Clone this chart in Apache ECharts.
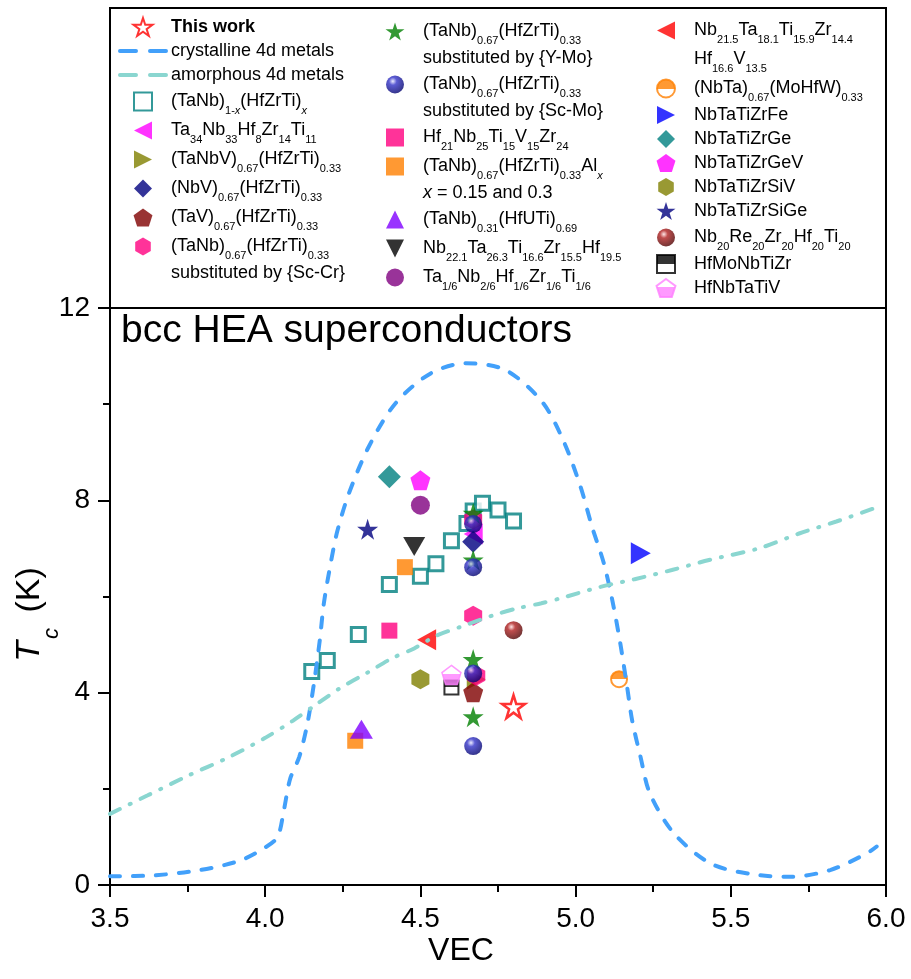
<!DOCTYPE html>
<html>
<head>
<meta charset="utf-8">
<title>bcc HEA superconductors</title>
<script src="https://cdn.jsdelivr.net/npm/echarts/dist/echarts.min.js"></script>
<style>
  html, body { margin: 0; padding: 0; background: #fff; }
  #chart { width: 911px; height: 979px; }
</style>
</head>
<body>
<div id="chart"></div>
<script>
// axis ticks
const xTicks = { min: 3.5, max: 6.0, step: 0.5 }
const yTicks = { min: 0, max: 12, step: 4 }

// reference curves (VEC, Tc)
const crystalline = [[3.5, 0.18], [3.64, 0.2], [3.79, 0.31], [3.92, 0.51], [4.0, 0.78], [4.04, 1.0], [4.06, 1.55], [4.08, 2.2], [4.11, 2.67], [4.136, 3.36], [4.157, 4.19], [4.176, 5.1], [4.189, 5.86], [4.211, 6.69], [4.232, 7.35], [4.27, 8.15], [4.334, 9.12], [4.42, 10.02], [4.533, 10.64], [4.646, 10.85], [4.774, 10.71], [4.892, 10.05], [4.962, 9.22], [5.016, 8.28], [5.053, 7.45], [5.091, 6.69], [5.118, 5.93], [5.142, 5.1], [5.166, 4.12], [5.182, 3.43], [5.209, 2.67], [5.239, 1.91], [5.316, 1.08], [5.434, 0.45], [5.563, 0.23], [5.692, 0.17], [5.82, 0.31], [5.939, 0.66], [5.97, 0.8]]
const amorphous = [[3.5, 1.48], [3.62, 1.86], [3.75, 2.27], [3.88, 2.65], [4.0, 3.06], [4.09, 3.42], [4.17, 3.78], [4.24, 4.09], [4.33, 4.42], [4.41, 4.72], [4.48, 4.92], [4.55, 5.18], [4.63, 5.37], [4.74, 5.62], [4.81, 5.75], [4.89, 5.86], [4.95, 5.96], [5.08, 6.2], [5.19, 6.36], [5.31, 6.55], [5.43, 6.76], [5.59, 7.0], [5.72, 7.31], [5.84, 7.56], [5.96, 7.83]]

// HEA data (VEC, Tc)
const thisWork = [[4.80, 3.71]]
const tanbX = [[4.15, 4.44], [4.20, 4.67], [4.30, 5.21], [4.40, 6.25], [4.50, 6.42], [4.55, 6.68], [4.60, 7.16], [4.65, 7.52], [4.67, 7.78], [4.70, 7.94], [4.75, 7.80], [4.80, 7.57]]
const ta34 = [[4.67, 7.30]]
const tanbv = [[4.68, 4.28]]
const nbv = [[4.67, 7.14]]
const tav = [[4.67, 4.01]]
const subScCr = [[4.67, 7.60], [4.67, 5.60], [4.68, 4.35]]
const subYMo = [[4.67, 7.73], [4.67, 6.76], [4.67, 4.69], [4.67, 3.50]]
const subScMo = [[4.67, 7.51], [4.67, 6.61], [4.67, 4.40], [4.67, 2.89]]
const hf21 = [[4.40, 5.29]]
const alX = [[4.45, 6.61], [4.29, 3.00]]
const hfuti = [[4.31, 3.24]]
const nb221 = [[4.48, 7.04]]
const ta16 = [[4.50, 7.90]]
const nb215 = [[4.52, 5.10]]
const nbtaMoHfW = [[5.14, 4.28]]
const zrFe = [[5.21, 6.90]]
const zrGe = [[4.40, 8.49]]
const zrGeV = [[4.50, 8.42]]
const zrSiV = [[4.50, 4.28]]
const zrSiGe = [[4.33, 7.40]]
const nb20 = [[4.80, 5.30]]
const hfMo = [[4.60, 4.11]]
const hfNbTaTiV = [[4.60, 4.37]]

// legend columns
const legendCol1 = ['This work', 'crystalline 4d metals', 'amorphous 4d metals', 'tanbX', 'ta34', 'tanbv', 'nbv', 'tav', 'subScCr', 'substituted by {Sc-Cr}']
const legendCol2 = ['subYMo', 'substituted by {Y-Mo}', 'subScMo', 'substituted by {Sc-Mo}', 'hf21', 'alX', 'x = 0.15 and 0.3', 'hfuti', 'nb221', 'ta16']
const legendCol3 = ['nb215', 'Hf16.6V13.5', 'nbtaMoHfW', 'NbTaTiZrFe', 'NbTaTiZrGe', 'NbTaTiZrGeV', 'NbTaTiZrSiV', 'NbTaTiZrSiGe', 'nb20', 'HfMoNbTiZr', 'HfNbTaTiV']

const legendText = {
  'This work': '{b|This work}',
  'tanbX': '{n|(TaNb)}{s|1-}{si|x}{n|(HfZrTi)}{si|x}',
  'ta34': '{n|Ta}{s|34}{n|Nb}{s|33}{n|Hf}{s|8}{n|Zr}{s|14}{n|Ti}{s|11}',
  'tanbv': '{n|(TaNbV)}{s|0.67}{n|(HfZrTi)}{s|0.33}',
  'nbv': '{n|(NbV)}{s|0.67}{n|(HfZrTi)}{s|0.33}',
  'tav': '{n|(TaV)}{s|0.67}{n|(HfZrTi)}{s|0.33}',
  'subScCr': '{n|(TaNb)}{s|0.67}{n|(HfZrTi)}{s|0.33}',
  'subYMo': '{n|(TaNb)}{s|0.67}{n|(HfZrTi)}{s|0.33}',
  'subScMo': '{n|(TaNb)}{s|0.67}{n|(HfZrTi)}{s|0.33}',
  'hf21': '{n|Hf}{s|21}{n|Nb}{s|25}{n|Ti}{s|15}{n|V}{s|15}{n|Zr}{s|24}',
  'alX': '{n|(TaNb)}{s|0.67}{n|(HfZrTi)}{s|0.33}{n|Al}{si|x}',
  'x = 0.15 and 0.3': '{i|x}{n| = 0.15 and 0.3}',
  'hfuti': '{n|(TaNb)}{s|0.31}{n|(HfUTi)}{s|0.69}',
  'nb221': '{n|Nb}{s|22.1}{n|Ta}{s|26.3}{n|Ti}{s|16.6}{n|Zr}{s|15.5}{n|Hf}{s|19.5}',
  'ta16': '{n|Ta}{s|1/6}{n|Nb}{s|2/6}{n|Hf}{s|1/6}{n|Zr}{s|1/6}{n|Ti}{s|1/6}',
  'nb215': '{n|Nb}{s|21.5}{n|Ta}{s|18.1}{n|Ti}{s|15.9}{n|Zr}{s|14.4}',
  'Hf16.6V13.5': '{n|Hf}{s|16.6}{n|V}{s|13.5}',
  'nbtaMoHfW': '{n|(NbTa)}{s|0.67}{n|(MoHfW)}{s|0.33}',
  'nb20': '{n|Nb}{s|20}{n|Re}{s|20}{n|Zr}{s|20}{n|Hf}{s|20}{n|Ti}{s|20}'
}

const FONT = '"Liberation Sans", Arial, sans-serif'

// path symbols keep their aspect in the legend, built-in ones get stretched
const STAR = 'path://M50,0L61.2,34.5L97.6,34.5L68.2,55.9L79.4,90.5L50,69.1L20.6,90.5L31.8,55.9L2.4,34.5L38.8,34.5Z'
const PENTAGON = 'path://M50,0L97.6,34.5L79.4,90.5L20.6,90.5L2.4,34.5Z'
const HEXAGON = 'path://M50,0L93.3,25L93.3,75L50,100L6.7,75L6.7,25Z'
const SQUARE = 'path://M0,0L100,0L100,100L0,100Z'
const DIAMOND = 'path://M50,0L100,50L50,100L0,50Z'
const TRI_UP = 'path://M50,0L100,100L0,100Z'
const TRI_LEFT = 'path://M0,50L100,0L100,100Z'
const TRI_RIGHT = 'path://M100,50L0,0L0,100Z'
const TRI_DOWN = 'path://M0,0L100,0L50,100Z'

function sphere(light, mid, dark) {
  return {
    type: 'radial', x: 0.38, y: 0.32, r: 0.72,
    colorStops: [
      { offset: 0, color: light },
      { offset: 0.3, color: mid },
      { offset: 1, color: dark }
    ]
  }
}

function split(top, bottom, at) {
  return {
    type: 'linear', x: 0, y: 0, x2: 0, y2: 1,
    colorStops: [
      { offset: 0, color: top }, { offset: at, color: top },
      { offset: at, color: bottom }, { offset: 1, color: bottom }
    ]
  }
}

function scatter(name, data, symbol, size, itemStyle) {
  return {
    name: name,
    type: 'scatter',
    data: data,
    symbol: symbol,
    symbolSize: size,
    itemStyle: itemStyle,
    emphasis: { disabled: true }
  }
}

// empty series that only hold the second line of a legend entry
function filler(name) {
  return { name: name, type: 'scatter', symbol: 'none', data: [] }
}

const rich = {
  n: { fontFamily: FONT, fontSize: 18, lineHeight: 24, color: '#000' },
  b: { fontFamily: FONT, fontSize: 18, lineHeight: 24, fontWeight: 'bold', color: '#000' },
  i: { fontFamily: FONT, fontSize: 18, lineHeight: 24, fontStyle: 'italic', color: '#000' },
  s: { fontFamily: FONT, fontSize: 11, lineHeight: 12, padding: [18, 0, 0, 0], color: '#000' },
  si: { fontFamily: FONT, fontSize: 11, lineHeight: 12, padding: [18, 0, 0, 0], fontStyle: 'italic', color: '#000' }
}

const lineLegend = {
  'crystalline 4d metals': { color: '#42a0fa', width: 4, type: [16, 14], cap: 'round' },
  'amorphous 4d metals': { color: '#8ad6d0', width: 4, type: [16, 14], cap: 'round' }
}

function legendColumn(left, top, names) {
  return {
    orient: 'vertical',
    left: left,
    top: top,
    padding: 0,
    itemGap: 0,
    itemWidth: 46,
    itemHeight: 18,
    symbolKeepAspect: true,
    selectedMode: false,
    formatter: name => legendText[name] || name,
    textStyle: { fontFamily: FONT, fontSize: 18, lineHeight: 24, color: '#000', rich: rich },
    data: names.map(n => lineLegend[n]
      ? { name: n, itemStyle: { opacity: 0 }, lineStyle: lineLegend[n] }
      : n)
  }
}

const chart = echarts.init(document.getElementById('chart'))

chart.setOption({
  animation: false,
  backgroundColor: '#fff',
  title: {
    text: 'bcc HEA superconductors',
    left: 121,
    top: 312,
    padding: 0,
    textStyle: { fontFamily: FONT, fontSize: 39, fontWeight: 'normal', color: '#000' }
  },
  legend: [
    legendColumn(118, 15, legendCol1),
    legendColumn(372, 17, legendCol2),
    legendColumn(643, 16, legendCol3)
  ],
  graphic: [{
    type: 'rect',
    shape: { x: 110, y: 8, width: 776, height: 300 },
    style: { fill: 'none', stroke: '#000', lineWidth: 2 },
    silent: true
  }],
  grid: {
    left: 110, right: 25, top: 308, bottom: 94,
    show: true, borderColor: '#000', borderWidth: 2,
    outerBoundsMode: 'none'
  },
  xAxis: {
    type: 'value',
    min: xTicks.min, max: xTicks.max, interval: xTicks.step,
    name: 'VEC',
    nameLocation: 'middle',
    nameGap: 50,
    nameMoveOverlap: false,
    nameTextStyle: { fontFamily: FONT, fontSize: 32, color: '#000', padding: [0, 74, 0, 0] },
    axisLine: { lineStyle: { color: '#000', width: 2 } },
    axisTick: { length: 12, lineStyle: { color: '#000', width: 2 } },
    minorTick: { show: true, splitNumber: 2, length: 7, lineStyle: { color: '#000', width: 2 } },
    axisLabel: { margin: 20, fontFamily: FONT, fontSize: 28, color: '#000', formatter: v => v.toFixed(1) },
    splitLine: { show: false },
    minorSplitLine: { show: false }
  },
  yAxis: {
    type: 'value',
    min: yTicks.min, max: yTicks.max, interval: yTicks.step,
    name: '{i|T}{c|c}{n| (K)}',
    nameLocation: 'middle',
    nameRotate: 90,
    nameGap: 62,
    nameMoveOverlap: false,
    nameTextStyle: {
      color: '#000',
      padding: [0, 36, 0, 0],
      rich: {
        i: { fontFamily: FONT, fontSize: 34, fontStyle: 'italic', lineHeight: 36, color: '#000' },
        c: { fontFamily: FONT, fontSize: 22, fontStyle: 'italic', lineHeight: 22, padding: [44, 6, 0, 2], color: '#000' },
        n: { fontFamily: FONT, fontSize: 34, lineHeight: 36, color: '#000' }
      }
    },
    axisLine: { lineStyle: { color: '#000', width: 2 } },
    axisTick: { length: 12, lineStyle: { color: '#000', width: 2 } },
    minorTick: { show: true, splitNumber: 2, length: 7, lineStyle: { color: '#000', width: 2 } },
    axisLabel: { margin: 20, fontFamily: FONT, fontSize: 28, color: '#000' },
    splitLine: { show: false },
    minorSplitLine: { show: false }
  },
  series: [
    {
      name: 'crystalline 4d metals', type: 'line', data: crystalline,
      symbol: 'none', smooth: 0.3,
      itemStyle: { color: '#42a0fa' },
      lineStyle: { color: '#42a0fa', width: 4, type: [10, 13], cap: 'round' }
    },
    {
      name: 'amorphous 4d metals', type: 'line', data: amorphous,
      symbol: 'none', smooth: 0.3,
      itemStyle: { color: '#8ad6d0' },
      lineStyle: { color: '#8ad6d0', width: 4, type: [11, 11, 1, 11], cap: 'round' }
    },
    scatter('This work', thisWork, STAR, 23, { color: '#fff', borderColor: '#ff0000', borderWidth: 2.5 }),
    scatter('tanbX', tanbX, SQUARE, 14, { color: '#fff', borderColor: '#008080', borderWidth: 3 }),
    scatter('ta34', ta34, TRI_LEFT, [19, 21], { color: '#ff00ff' }),
    scatter('tanbv', tanbv, TRI_RIGHT, [19, 21], { color: '#808000' }),
    scatter('nbv', nbv, DIAMOND, 22, { color: '#000080' }),
    scatter('tav', tav, PENTAGON, 20, { color: '#800000' }),
    scatter('subScCr', subScCr, HEXAGON, [18, 20], { color: '#ff0080' }),
    scatter('subYMo', subYMo, STAR, 21, { color: '#008000' }),
    scatter('subScMo', subScMo, 'circle', 18, { color: sphere('#e8e8ff', '#3333c8', '#00006a') }),
    scatter('hf21', hf21, SQUARE, 16, { color: '#ff0080' }),
    scatter('alX', alX, SQUARE, 16, { color: '#ff8000' }),
    scatter('hfuti', hfuti, TRI_UP, [23, 19], { color: '#8000ff' }),
    scatter('nb221', nb221, TRI_DOWN, [22, 19], { color: '#000' }),
    scatter('ta16', ta16, 'circle', 19, { color: '#800080' }),
    scatter('nb215', nb215, TRI_LEFT, [19, 21], { color: '#ff0000' }),
    scatter('nbtaMoHfW', nbtaMoHfW, 'circle', 16, { color: split('#ff8000', '#fff', 0.5), borderColor: '#ff8000', borderWidth: 2 }),
    scatter('NbTaTiZrFe', zrFe, TRI_RIGHT, [20, 22], { color: '#0000ff' }),
    scatter('NbTaTiZrGe', zrGe, DIAMOND, 23, { color: '#008080' }),
    scatter('NbTaTiZrGeV', zrGeV, PENTAGON, 20, { color: '#ff00ff' }),
    scatter('NbTaTiZrSiV', zrSiV, HEXAGON, [18, 20], { color: '#808000' }),
    scatter('NbTaTiZrSiGe', zrSiGe, STAR, 21, { color: '#000080' }),
    scatter('nb20', nb20, 'circle', 18, { color: sphere('#ffe0e0', '#b02020', '#4a0000') }),
    scatter('HfMoNbTiZr', hfMo, SQUARE, 14, { color: split('#000', '#fff', 0.5), borderColor: '#000', borderWidth: 2 }),
    scatter('HfNbTaTiV', hfNbTaTiV, PENTAGON, 19, { color: split('#fff', '#ff80ff', 0.45), borderColor: '#ff80ff', borderWidth: 1.5 }),
    filler('substituted by {Sc-Cr}'),
    filler('substituted by {Y-Mo}'),
    filler('substituted by {Sc-Mo}'),
    filler('x = 0.15 and 0.3'),
    filler('Hf16.6V13.5')
  ]
})
</script>
</body>
</html>
